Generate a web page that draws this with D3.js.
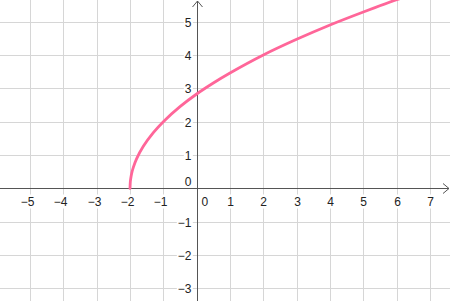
<!DOCTYPE html>
<html>
<head>
  <meta charset="utf-8">
  <title>Graph</title>
  <script src="https://d3js.org/d3.v7.min.js"></script>
  <style>
    body { margin: 0; background: #fff; }
    text { font-family: Arial, "Liberation Sans", sans-serif; font-size: 12px; fill: #222; }
  </style>
</head>
<body>
  <div id="chart"></div>
  <script>
    // tick values on each axis
    var xTicks = [-5, -4, -3, -2, -1, 0, 1, 2, 3, 4, 5, 6, 7];
    var yTicks = [-3, -2, -1, 0, 1, 2, 3, 4, 5];

    // points
    var curveX = [-2, -1.99, -1.98, -1.95, -1.9, -1.8, -1.6, -1.3, -1, -0.5, 0, 0.5, 1, 2, 3, 4, 5, 6, 6.13];
    var curveY = [0, 0.2, 0.28, 0.45, 0.63, 0.89, 1.26, 1.67, 2, 2.45, 2.83, 3.16, 3.46, 4, 4.47, 4.9, 5.29, 5.66, 5.7];

    var width = 450, height = 301;

    var svg = d3.select("#chart")
      .append("svg")
        .attr("width", width)
        .attr("height", height);

    var x = d3.scaleLinear().domain([-5.9, 7.6]).range([0, width]);
    var y = d3.scaleLinear().domain([-3.38, 5.65]).range([height, 0]);

    var px = function(v) { return Math.round(x(v)) + 0.5; };
    var py = function(v) { return Math.round(y(v)) + 0.5; };

    // grid
    var grid = svg.append("g").attr("stroke", "#d6d6d6").attr("stroke-width", 1);
    grid.selectAll("line.v")
      .data(xTicks.filter(function(d) { return d !== 0; }))
      .enter().append("line")
        .attr("x1", px).attr("x2", px)
        .attr("y1", 0).attr("y2", height);
    grid.selectAll("line.h")
      .data(yTicks.filter(function(d) { return d !== 0; }))
      .enter().append("line")
        .attr("y1", py).attr("y2", py)
        .attr("x1", 0).attr("x2", width);

    // labels (white background hides the grid behind them)
    var labels = svg.append("g");

    xTicks.forEach(function(d) {
      var t = labels.append("text")
        .text(d < 0 ? "\u2212" + (-d) : d)
        .attr("y", py(0) + 17);
      if (d === 0) {
        t.attr("x", px(0) + 4).attr("text-anchor", "start");
      } else {
        t.attr("x", px(d) - (d < 0 ? 3 : 0)).attr("text-anchor", "middle");
      }
    });

    yTicks.forEach(function(d) {
      var t = labels.append("text")
        .text(d < 0 ? "\u2212" + (-d) : d)
        .attr("x", px(0) - 6)
        .attr("text-anchor", "end");
      if (d === 0) {
        t.attr("y", py(0) - 3);
      } else {
        t.attr("y", py(d) + 4.5);
      }
    });

    labels.selectAll("text").each(function() {
      var b = this.getBBox();
      labels.insert("rect", "text")
        .attr("x", b.x - 1).attr("y", b.y)
        .attr("width", b.width + 2).attr("height", b.height)
        .attr("fill", "#fff");
    });

    // axes with open arrow heads
    var axes = svg.append("g").attr("stroke", "#555").attr("stroke-width", 1).attr("fill", "none");
    var ax = py(0), ay = px(0);
    axes.append("line").attr("x1", 0).attr("x2", width - 1).attr("y1", ax).attr("y2", ax);
    axes.append("path").attr("d", "M" + (width - 7) + "," + (ax - 5) + "L" + (width - 1) + "," + ax + "L" + (width - 7) + "," + (ax + 5));
    axes.append("line").attr("x1", ay).attr("x2", ay).attr("y1", 1).attr("y2", height);
    axes.append("path").attr("d", "M" + (ay - 5) + ",7L" + ay + ",1L" + (ay + 5) + ",7");

    // function curve
    var pts = curveX.map(function(d, i) { return [d, curveY[i]]; });
    var line = d3.line()
      .x(function(d) { return x(d[0]); })
      .y(function(d) { return y(d[1]); })
      .curve(d3.curveCatmullRom.alpha(0.5));

    svg.append("path")
      .datum(pts)
      .attr("d", line)
      .attr("fill", "none")
      .attr("stroke", "#ff6699")
      .attr("stroke-width", 2.8)
      .attr("stroke-linecap", "round");
  </script>
</body>
</html>
